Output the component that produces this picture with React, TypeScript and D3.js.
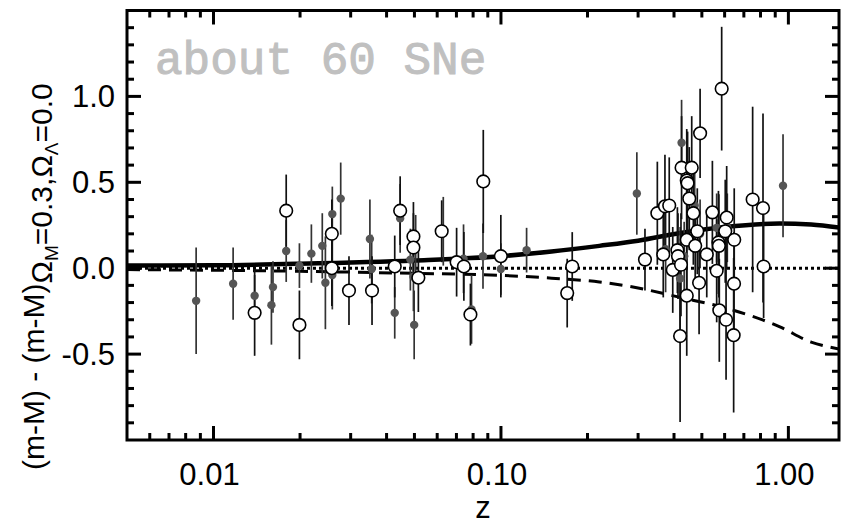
import React from "react";
import * as d3 from "d3";

// ---- data ----
// filled (gray) supernovae: redshift, residual, error
const filledZ = [0.0087, 0.0117, 0.0139, 0.0159, 0.0161, 0.0179, 0.0199, 0.0219, 0.0239, 0.0245, 0.0259, 0.0259, 0.0277, 0.035, 0.0355, 0.0427, 0.0446, 0.0484, 0.0505, 0.0496, 0.0499, 0.063, 0.0741, 0.079, 0.0866, 0.0999, 0.1228, 0.297, 0.374, 0.42, 0.425, 0.434, 0.472, 0.493, 0.563, 0.613, 0.958];
const filledV = [-0.19, -0.09, -0.16, -0.215, -0.11, 0.10, 0.015, 0.085, 0.13, -0.085, 0.315, -0.04, 0.405, 0.17, -0.005, -0.26, 0.29, 0.05, 0.11, -0.05, -0.33, 0.215, 0.055, -0.24, 0.07, -0.005, 0.105, 0.435, 0.11, -0.06, 0.73, 0.07, 0.365, 0.2, 0.235, 0.235, 0.48];
const filledE = [0.31, 0.21, 0.12, 0.23, 0.15, 0.18, 0.13, 0.17, 0.19, 0.27, 0.16, 0.2, 0.21, 0.23, 0.2, 0.15, 0.2, 0.18, 0.2, 0.2, 0.2, 0.2, 0.2, 0.2, 0.19, 0.15, 0.13, 0.24, 0.25, 0.3, 0.25, 0.2, 0.2, 0.2, 0.2, 0.2, 0.3];

// open supernovae
const openZ = [0.0139, 0.0179, 0.0199, 0.0258, 0.0258, 0.0296, 0.0356, 0.0427, 0.0446, 0.0496, 0.0496, 0.0516, 0.0622, 0.0701, 0.0743, 0.0783, 0.0868, 0.0999, 0.170, 0.177, 0.317, 0.35, 0.367, 0.372, 0.385, 0.396, 0.411, 0.413, 0.423, 0.425, 0.42, 0.443, 0.443, 0.443, 0.446, 0.452, 0.467, 0.461, 0.474, 0.482, 0.493, 0.489, 0.52, 0.544, 0.563, 0.571, 0.573, 0.575, 0.586, 0.61, 0.603, 0.607, 0.648, 0.647, 0.645, 0.751, 0.816, 0.82];
const openV = [-0.26, 0.335, -0.33, 0.2, 0.0, -0.13, -0.13, 0.01, 0.335, 0.185, 0.12, -0.055, 0.215, 0.035, 0.01, -0.27, 0.505, 0.07, -0.145, 0.01, 0.05, 0.32, 0.08, 0.36, 0.365, -0.01, 0.105, 0.07, 0.02, 0.585, -0.395, 0.165, -0.16, 0.51, 0.495, 0.405, 0.32, 0.585, 0.13, 0.215, 0.785, -0.085, 0.08, 0.325, -0.015, 0.15, 0.13, -0.245, 1.045, 0.295, 0.215, -0.3, 0.165, -0.09, -0.39, 0.40, 0.35, 0.01];
const openE = [0.25, 0.21, 0.2, 0.2, 0.22, 0.2, 0.2, 0.18, 0.2, 0.2, 0.2, 0.2, 0.18, 0.2, 0.2, 0.18, 0.3, 0.24, 0.2, 0.2, 0.18, 0.3, 0.25, 0.3, 0.28, 0.25, 0.25, 0.25, 0.3, 0.3, 0.5, 0.3, 0.35, 0.3, 0.3, 0.3, 0.3, 0.3, 0.25, 0.25, 0.26, 0.3, 0.25, 0.3, 0.3, 0.3, 0.3, 0.3, 0.36, 0.3, 0.3, 0.35, 0.3, 0.3, 0.45, 0.54, 0.55, 0.3];

// model curves
const curveZ = [0.005, 0.01, 0.02, 0.05, 0.1, 0.15, 0.22, 0.3, 0.42, 0.6, 0.93, 1.2, 1.5];
const solidV = [0.015, 0.017, 0.026, 0.045, 0.07, 0.097, 0.13, 0.16, 0.205, 0.24, 0.26, 0.255, 0.237];
const dashedV = [-0.008, -0.012, -0.018, -0.03, -0.042, -0.058, -0.08, -0.115, -0.17, -0.23, -0.34, -0.43, -0.47];
const dottedZ = [0.005, 1.5];
const dottedV = [0, 0];

const xMajor = [0.01, 0.1, 1.0];
const xMajorLabels = ["0.01", "0.10", "1.00"];
const xMinor = [0.006, 0.007, 0.008, 0.009, 0.02, 0.03, 0.04, 0.05, 0.06, 0.07, 0.08, 0.09, 0.2, 0.3, 0.4, 0.5, 0.6, 0.7, 0.8, 0.9];
const yMajor = [-0.5, 0.0, 0.5, 1.0];
const yMajorLabels = ["-0.5", "0.0", "0.5", "1.0"];
const yMinor = [-0.9, -0.8, -0.7, -0.6, -0.4, -0.3, -0.2, -0.1, 0.1, 0.2, 0.3, 0.4, 0.6, 0.7, 0.8, 0.9, 1.1, 1.2, 1.3, 1.4];

const W = 865, H = 524;
const L = 127, R = 839, T = 10.5, B = 440;

export default function App() {
  const x = d3.scaleLog().domain([0.005, 1.5]).range([L, R]);
  const y = d3.scaleLinear().domain([-1.0, 1.5]).range([B, T]);
  const line = d3.line<[number, number]>()
    .x((d) => x(d[0]))
    .y((d) => y(d[1]))
    .curve(d3.curveMonotoneX);
  const solid = line(curveZ.map((z, i) => [z, solidV[i]]));
  const dashed = line(curveZ.map((z, i) => [z, dashedV[i]]));
  const dotted = line(dottedZ.map((z, i) => [z, dottedV[i]]));
  const font = "'Liberation Sans', Arial, Helvetica, sans-serif";
  const majL = 14, minL = 7;

  return (
    <svg width={W} height={H} style={{ position: "absolute", left: 0, top: 0, background: "#fff" }}>
      <rect x={0} y={0} width={W} height={H} fill="#fff" />
      <defs>
        <clipPath id="plot">
          <rect x={L} y={T} width={R - L} height={B - T} />
        </clipPath>
      </defs>
      <text x={155} y={74} fill="#c0c0c0" stroke="#c0c0c0" strokeWidth={1.0}
        fontFamily="'Liberation Mono', 'Courier New', monospace" fontSize={46}>about 60 SNe</text>

      <g clipPath="url(#plot)">
        <path d={dotted || ""} fill="none" stroke="#000" strokeWidth={3} strokeDasharray="3,3" />
        <path d={dashed || ""} fill="none" stroke="#000" strokeWidth={3} strokeDasharray="13,8" />
        <path d={solid || ""} fill="none" stroke="#000" strokeWidth={4.5} />
      </g>

      {filledZ.map((z, i) => (
        <line key={"fe" + i} x1={x(z)} x2={x(z)} y1={y(filledV[i] - filledE[i])} y2={y(filledV[i] + filledE[i])}
          stroke="#333" strokeWidth={1.7} />
      ))}
      {openZ.map((z, i) => (
        <line key={"oe" + i} x1={x(z)} x2={x(z)} y1={y(openV[i] - openE[i])} y2={y(openV[i] + openE[i])}
          stroke="#111" strokeWidth={1.7} />
      ))}
      {filledZ.map((z, i) => (
        <circle key={"fp" + i} cx={x(z)} cy={y(filledV[i])} r={4.2} fill="#555" />
      ))}
      {openZ.map((z, i) => (
        <circle key={"op" + i} cx={x(z)} cy={y(openV[i])} r={6.3} fill="#fff" stroke="#000" strokeWidth={1.6} />
      ))}

      {/* frame */}
      <rect x={L} y={T} width={R - L} height={B - T} fill="none" stroke="#000" strokeWidth={3} />

      {/* x ticks */}
      {xMajor.map((v) => (
        <g key={"xM" + v}>
          <line x1={x(v)} x2={x(v)} y1={B} y2={B - majL} stroke="#000" strokeWidth={3} />
          <line x1={x(v)} x2={x(v)} y1={T} y2={T + majL} stroke="#000" strokeWidth={3} />
        </g>
      ))}
      {xMinor.map((v) => (
        <g key={"xm" + v}>
          <line x1={x(v)} x2={x(v)} y1={B} y2={B - minL} stroke="#000" strokeWidth={3} />
          <line x1={x(v)} x2={x(v)} y1={T} y2={T + minL} stroke="#000" strokeWidth={3} />
        </g>
      ))}
      {xMajor.map((v, i) => (
        <text key={"xl" + v} x={x(v) - 4} y={485} textAnchor="middle" fontFamily={font} fontSize={31} fill="#000">
          {xMajorLabels[i]}
        </text>
      ))}
      <text x={(L + R) / 2} y={518} textAnchor="middle" fontFamily={font} fontSize={31} fill="#000">z</text>

      {/* y ticks */}
      {yMajor.map((v) => (
        <g key={"yM" + v}>
          <line x1={L} x2={L + majL} y1={y(v)} y2={y(v)} stroke="#000" strokeWidth={3} />
          <line x1={R} x2={R - majL} y1={y(v)} y2={y(v)} stroke="#000" strokeWidth={3} />
        </g>
      ))}
      {yMinor.map((v) => (
        <g key={"ym" + v}>
          <line x1={L} x2={L + minL} y1={y(v)} y2={y(v)} stroke="#000" strokeWidth={3} />
          <line x1={R} x2={R - minL} y1={y(v)} y2={y(v)} stroke="#000" strokeWidth={3} />
        </g>
      ))}
      {yMajor.map((v, i) => (
        <text key={"yl" + v} x={115} y={y(v) + 11} textAnchor="end" fontFamily={font} fontSize={31} fill="#000">
          {yMajorLabels[i]}
        </text>
      ))}

      {/* y label */}
      <text transform="translate(44,470) rotate(-90)" fontFamily={font} fontSize={30} fill="#000">
        <tspan>(m-M) - (m-M)</tspan>
        <tspan dy={8}>Ω</tspan>
        <tspan dy={6} fontSize={19}>M</tspan>
        <tspan dy={-6}>=0.3,Ω</tspan>
        <tspan dy={6} fontSize={19}>Λ</tspan>
        <tspan dy={-6}>=0.0</tspan>
      </text>
    </svg>
  );
}
